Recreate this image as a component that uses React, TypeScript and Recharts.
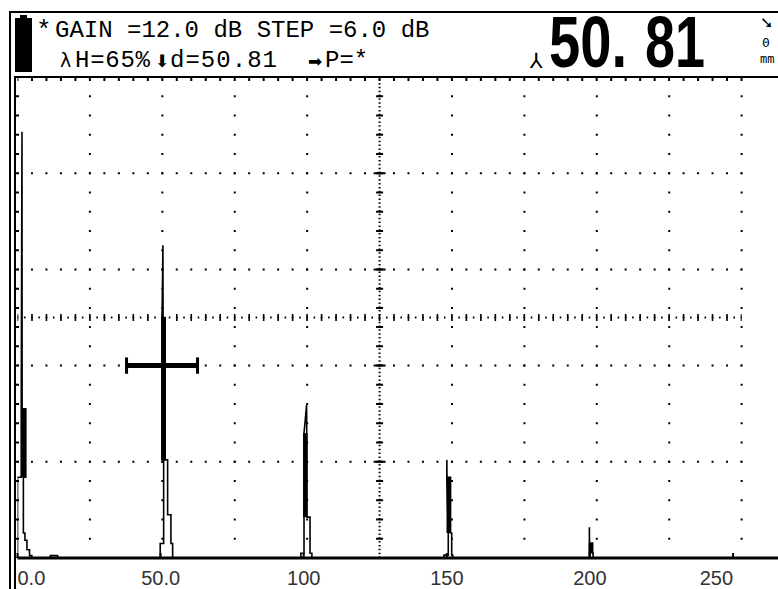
import React from "react";
import { ComposedChart, Line, ReferenceLine, XAxis, YAxis } from "recharts";

// A-scan trace: [distance mm, amplitude %]
const pulseTrace = [
  [0, 0], [0, 16.8], [1.3, 16.8], [1.3, 31], [1.57, 88.6], [1.62, 31], [2.9, 31], [2.9, 16.8],
  [2.05, 16.8], [2.05, 5.2], [2.6, 5.2], [2.6, 3.7], [3.3, 3.7], [3.3, 1.7], [4.2, 1.7],
  [4.2, 0.5], [5.0, 0.5], [5.0, 0], [11.4, 0], [11.5, 0.5], [14.0, 0.5], [14.1, 0],
];
const echo1 = [
  [49.86, 0], [49.86, 3], [51.06, 3], [51.06, 20.4], [50.5, 20.4], [50.5, 50], [50.81, 65],
  [50.86, 50], [51.6, 50], [51.6, 20.4], [52.45, 20.4], [52.45, 9], [53.6, 9], [53.6, 3],
  [54.2, 3], [54.2, 0],
];
const echo2 = [
  [99.0, 0], [99.0, 1], [100.1, 1], [100.1, 26], [101.0, 31.8], [101.05, 26], [101.1, 8.5],
  [102.2, 8.5], [102.2, 1], [102.85, 1], [102.85, 0],
];
const echo3 = [
  [149.0, 0], [149.0, 0.6], [150.5, 0.6], [150.5, 5.2], [150.0, 16.8], [150.0, 20.4],
  [150.05, 16.8], [151.3, 16.8], [151.3, 5.2], [151.7, 5.2], [151.7, 0.6], [152.06, 0.6],
  [152.06, 0],
];
const echo4 = [
  [199.7, 0], [199.7, 1], [199.8, 1], [199.8, 6.4], [199.85, 3.1], [200.9, 3.1], [200.9, 1],
  [201.1, 1], [201.1, 0], [265, 0],
];
// solid parts of the echoes: [distance, from %, to %]
const solidBands = [
  [2.1, 16.8, 31],
  [50.96, 20.4, 50],
  [100.56, 8.5, 26],
  [150.67, 5.2, 16.8],
  [200.35, 1, 3.1],
];

const distTicks = [0, 50, 100, 150, 200, 250];
const distLabels = ["0.0", "50.0", "100", "150", "200", "250"];

// graticule: 10 divisions of 25.3 mm, 5 divisions of 20 %
const gridDist = [25.3, 50.6, 75.9, 101.2, 151.8, 177.1, 202.4, 227.7, 253];
const centerDist = 126.5;
const screenEnd = 253;
const gridAmp = [20, 40, 60, 80];
const centerAmp = 50;

const gateStart = 37.6;
const gateEnd = 63.4;
const gateLevel = 40;

const traceData = [...pulseTrace, ...echo1, ...echo2, ...echo3, ...echo4].map(([d, a]) => ({ d, a }));
const bandData = solidBands.flatMap(([d, lo, hi]) => [
  { d, a: lo },
  { d, a: hi },
  { d, a: null },
]);

function DistTick({ x, y, payload }: { x?: number; y?: number; payload?: { value: number } }) {
  if (x == null || y == null || !payload) return null;
  const i = distTicks.indexOf(payload.value);
  const anchor = payload.value === 0 ? "start" : payload.value === 250 ? "end" : "middle";
  return (
    <g>
      <line x1={x} x2={x} y1={y - 5} y2={y} stroke="#000" strokeWidth={2} />
      <text x={x} y={y + 27} textAnchor={anchor} fill="#333" fontSize={20} fontFamily="Liberation Sans, Arial, sans-serif">
        {distLabels[i]}
      </text>
    </g>
  );
}

function Frame() {
  const mono = "Liberation Mono, DejaVu Sans Mono, monospace";
  return (
    <svg width={778} height={589} style={{ position: "absolute", left: 0, top: 0, pointerEvents: "none" }}>
      {/* outer frame */}
      <line x1={10} y1={12} x2={778} y2={12} stroke="#000" strokeWidth={2} />
      <line x1={10} y1={11} x2={10} y2={589} stroke="#000" strokeWidth={2} />
      <line x1={15} y1={77} x2={778} y2={77} stroke="#000" strokeWidth={2} />
      <line x1={15} y1={76} x2={15} y2={589} stroke="#000" strokeWidth={2} />
      {/* frame ticks */}
      <line x1={17.5} y1={79.5} x2={743} y2={79.5} stroke="#000" strokeWidth={3} strokeDasharray="2 12.48" strokeDashoffset={1} />
      <line x1={17.5} y1={77} x2={17.5} y2={558} stroke="#000" strokeWidth={3} strokeDasharray="2 17.24" strokeDashoffset={1} />
      {/* battery */}
      <rect x={20} y={15} width={7} height={4} fill="#000" />
      <rect x={15} y={18} width={17} height={54} fill="#000" />
      {/* header text */}
      <text x={36} y={38} fontFamily={mono} fontSize={26} fill="#000">*</text>
      <text x={55} y={37} fontFamily={mono} fontSize={24} fill="#000" xmlSpace="preserve">GAIN =12.0 dB STEP =6.0 dB</text>
      <text x={60} y={67} fontFamily="DejaVu Sans, sans-serif" fontSize={19} fill="#000">λ</text>
      <text x={75} y={67} fontFamily={mono} fontSize={24} fill="#000" textLength={75}>H=65%</text>
      <text x={155} y={67} fontFamily="DejaVu Sans, sans-serif" fontSize={17} fill="#000">⬇</text>
      <text x={170} y={67} fontFamily={mono} fontSize={24} fill="#000" textLength={107}>d=50.81</text>
      <text x={308} y={67} fontFamily="DejaVu Sans, sans-serif" fontSize={17} fill="#000">➡</text>
      <text x={325} y={67} fontFamily={mono} fontSize={24} fill="#000">P=*</text>
      {/* big reading */}
      <text x={530} y={68} fontFamily="DejaVu Sans, sans-serif" fontSize={21} fill="#000">⅄</text>
      <text x={549} y={67} fontFamily="Liberation Sans, Arial, sans-serif" fontWeight="bold" fontSize={72} fill="#000" textLength={78} lengthAdjust="spacingAndGlyphs">50.</text>
      <text x={645} y={67} fontFamily="Liberation Sans, Arial, sans-serif" fontWeight="bold" fontSize={72} fill="#000" textLength={60} lengthAdjust="spacingAndGlyphs">81</text>
      <text x={760} y={28} fontFamily="DejaVu Sans, sans-serif" fontWeight="bold" fontSize={16} fill="#000">➘</text>
      <text x={762} y={47} fontFamily="DejaVu Sans Mono, monospace" fontSize={13} fill="#000">0</text>
      <text x={760} y={63} fontFamily="DejaVu Sans Mono, monospace" fontSize={12} fill="#000">mm</text>
    </svg>
  );
}

export default function App() {
  return (
    <div style={{ position: "absolute", left: 0, top: 0, width: 778, height: 589, background: "#fff" }}>
      <ComposedChart width={778} height={589} margin={{ top: 77, right: 0, left: 17.5, bottom: 0 }}>
        <XAxis
          dataKey="d"
          type="number"
          domain={[0, 265.7]}
          allowDataOverflow
          ticks={distTicks}
          tick={<DistTick />}
          tickSize={0}
          tickMargin={0}
          tickLine={false}
          axisLine={false}
          height={31}
          interval={0}
        />
        <YAxis hide type="number" domain={[0, 100]} allowDataOverflow />

        {gridDist.map((d) => (
          <ReferenceLine key={`gx${d}`} x={d} stroke="#000" strokeWidth={2} strokeDasharray="2 17.24" strokeDashoffset={1} />
        ))}
        {gridAmp.map((a) => (
          <ReferenceLine
            key={`gy${a}`}
            segment={[{ x: 0, y: a }, { x: screenEnd, y: a }]}
            stroke="#000"
            strokeWidth={2}
            strokeDasharray="2 12.48"
            strokeDashoffset={1}
          />
        ))}
        <ReferenceLine x={centerDist} stroke="#000" strokeWidth={2} strokeDasharray="1.5 2.35" />
        <ReferenceLine x={centerDist} stroke="#000" strokeWidth={7} strokeDasharray="2 17.24" strokeDashoffset={1} />
        <ReferenceLine x={centerDist} stroke="#000" strokeWidth={12} strokeDasharray="2 94.2" strokeDashoffset={1} />
        <ReferenceLine segment={[{ x: 0, y: centerAmp }, { x: screenEnd, y: centerAmp }]} stroke="#000" strokeWidth={2} strokeDasharray="1.6 5.64" strokeDashoffset={0.8} />
        <ReferenceLine segment={[{ x: 0, y: centerAmp }, { x: screenEnd, y: centerAmp }]} stroke="#000" strokeWidth={7} strokeDasharray="1.6 12.88" strokeDashoffset={0.8} />

        {/* gate */}
        <ReferenceLine segment={[{ x: gateStart, y: gateLevel }, { x: gateEnd, y: gateLevel }]} stroke="#000" strokeWidth={5} />
        <ReferenceLine segment={[{ x: gateStart + 0.5, y: gateLevel - 1.7 }, { x: gateStart + 0.5, y: gateLevel + 1.7 }]} stroke="#000" strokeWidth={3} />
        <ReferenceLine segment={[{ x: gateEnd - 0.5, y: gateLevel - 1.7 }, { x: gateEnd - 0.5, y: gateLevel + 1.7 }]} stroke="#000" strokeWidth={3} />

        <Line data={traceData} dataKey="a" type="linear" dot={false} activeDot={false} stroke="#000" strokeWidth={1.6} isAnimationActive={false} />
        <Line data={bandData} dataKey="a" type="linear" dot={false} activeDot={false} stroke="#000" strokeWidth={4.5} isAnimationActive={false} />

        <ReferenceLine y={0} stroke="#000" strokeWidth={3} />
      </ComposedChart>
      <Frame />
    </div>
  );
}
